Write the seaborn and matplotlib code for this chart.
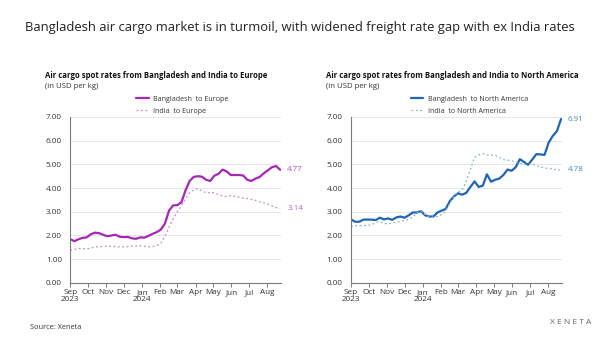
import matplotlib
matplotlib.use("Agg")
import matplotlib.pyplot as plt
import seaborn as sns
import pandas as pd

sns.set_theme(style="white")
plt.rcParams["font.family"] = ["Open Sans", "DejaVu Sans"]

# Weekly spot rates, USD per kg (Sep 2023 - Aug 2024)
weeks = pd.date_range("2023-09-01", periods=52, freq="7D")

bd_europe = [1.85, 1.76, 1.84, 1.90, 1.92, 2.05, 2.12, 2.10, 2.03, 1.97,
             2.00, 2.03, 1.95, 1.93, 1.94, 1.88, 1.86, 1.92, 1.91, 1.98,
             2.07, 2.14, 2.25, 2.50, 3.05, 3.27, 3.28, 3.40, 3.90, 4.30,
             4.47, 4.50, 4.48, 4.35, 4.30, 4.52, 4.60, 4.78, 4.70, 4.55,
             4.55, 4.55, 4.53, 4.35, 4.30, 4.40, 4.47, 4.62, 4.75, 4.88,
             4.93, 4.77]
in_europe = [1.38, 1.42, 1.45, 1.45, 1.43, 1.47, 1.52, 1.52, 1.54, 1.55,
             1.55, 1.53, 1.52, 1.52, 1.53, 1.55, 1.55, 1.57, 1.54, 1.52,
             1.53, 1.58, 1.68, 1.95, 2.35, 2.70, 3.00, 3.25, 3.55, 3.80,
             3.92, 3.98, 3.88, 3.80, 3.82, 3.80, 3.72, 3.66, 3.64, 3.68,
             3.65, 3.62, 3.58, 3.56, 3.52, 3.48, 3.42, 3.38, 3.32, 3.25,
             3.18, 3.14]
bd_namerica = [2.68, 2.58, 2.58, 2.67, 2.67, 2.67, 2.65, 2.75, 2.68, 2.72,
               2.66, 2.76, 2.80, 2.75, 2.85, 2.97, 2.97, 3.03, 2.85, 2.80,
               2.80, 2.97, 3.05, 3.12, 3.45, 3.65, 3.78, 3.72, 3.80, 4.05,
               4.28, 4.05, 4.10, 4.58, 4.27, 4.35, 4.40, 4.55, 4.78, 4.73,
               4.88, 5.22, 5.10, 4.98, 5.20, 5.43, 5.42, 5.40, 5.92, 6.20,
               6.40, 6.91]
in_namerica = [2.38, 2.42, 2.42, 2.42, 2.43, 2.45, 2.55, 2.58, 2.50, 2.50,
               2.52, 2.56, 2.60, 2.62, 2.68, 2.78, 2.95, 3.05, 2.88, 2.78,
               2.78, 2.80, 2.88, 3.05, 3.35, 3.65, 3.85, 3.90, 4.30, 4.80,
               5.30, 5.40, 5.45, 5.40, 5.40, 5.38, 5.30, 5.20, 5.18, 5.15,
               5.10, 5.05, 5.00, 5.00, 5.02, 4.95, 4.88, 4.85, 4.82, 4.82,
               4.75, 4.78]

month_labels = ["Sep\n2023", "Oct", "Nov", "Dec", "Jan\n2024", "Feb", "Mar",
                "Apr", "May", "Jun", "Jul", "Aug"]
y_ticks = [0, 1, 2, 3, 4, 5, 6, 7]

panels = [
    dict(title="Air cargo spot rates from Bangladesh and India to Europe",
         main="Bangladesh  to Europe", other="India  to Europe",
         main_vals=bd_europe, other_vals=in_europe,
         main_color="#A626B8", other_color="#C98BD2",
         main_lbl="#B24DC2", other_lbl="#B866C6",
         left=0.117, legend_x=0.53),
    dict(title="Air cargo spot rates from Bangladesh and India to North America",
         main="Bangladesh  to North America", other="India  to North America",
         main_color="#1F64B8", other_color="#8CB4CE",
         main_vals=bd_namerica, other_vals=in_namerica,
         main_lbl="#3E8CC0", other_lbl="#3E8CC0",
         left=0.585, legend_x=0.56),
]

fig = plt.figure(figsize=(6.0, 3.38), dpi=100)
fig.patch.set_facecolor("white")

fig.text(0.5, 0.918, "Bangladesh air cargo market is in turmoil, with widened freight rate gap with ex India rates",
         ha="center", va="center", fontsize=9.4, color="#222222")

month_starts = pd.date_range("2023-09-01", periods=12, freq="MS")

for p in panels:
    ax = fig.add_axes([p["left"], 0.163, 0.352, 0.491])
    df = pd.DataFrame({"week": weeks, p["main"]: p["main_vals"], p["other"]: p["other_vals"]})
    sns.lineplot(data=df, x="week", y=p["main"], ax=ax, color=p["main_color"],
                 linewidth=1.6, label=p["main"])
    sns.lineplot(data=df, x="week", y=p["other"], ax=ax, color=p["other_color"],
                 linewidth=0.9, linestyle=(0, (1.5, 2.0)), label=p["other"])

    ax.set_ylim(0, 7)
    ax.set_yticks(y_ticks)
    ax.set_yticklabels([f"{v:.2f}" for v in y_ticks])
    ax.set_xlim(weeks[0], weeks[-1] + pd.Timedelta(days=2))
    ax.set_xticks(month_starts)
    ax.set_xticklabels(month_labels)
    ax.set_xlabel("")
    ax.set_ylabel("")
    ax.grid(axis="y", color="#E6E6E6", linewidth=0.7)
    ax.set_axisbelow(True)
    for s in ["top", "right"]:
        ax.spines[s].set_visible(False)
    for s in ["left", "bottom"]:
        ax.spines[s].set_color("#7A7A7A")
        ax.spines[s].set_linewidth(0.8)
    ax.tick_params(axis="x", which="major", length=3, width=0.7, color="#7A7A7A",
                   labelsize=5.9, labelcolor="#333333", pad=1.5, direction="out", bottom=True)
    ax.tick_params(axis="y", length=0, labelsize=5.9, labelcolor="#333333", pad=6)
    for t in ax.get_xticklabels():
        t.set_linespacing(0.95)

    # end-of-series value labels
    ax.annotate(f"{p['main_vals'][-1]:.2f}", xy=(weeks[-1], p["main_vals"][-1]),
                xytext=(5, 0), textcoords="offset points", va="center", ha="left",
                fontsize=5.8, color=p["main_lbl"], annotation_clip=False)
    ax.annotate(f"{p['other_vals'][-1]:.2f}", xy=(weeks[-1], p["other_vals"][-1]),
                xytext=(5, 0), textcoords="offset points", va="center", ha="left",
                fontsize=5.8, color=p["other_lbl"], annotation_clip=False)

    leg = ax.legend(loc="lower center", bbox_to_anchor=(p["legend_x"], 1.005),
                    frameon=False, fontsize=5.1, handlelength=1.8, handletextpad=0.6,
                    labelspacing=0.7, borderaxespad=0.0, borderpad=0.2)
    for t in leg.get_texts():
        t.set_color("#333333")

    pos = ax.get_position()
    fig.text(pos.x0 - 0.042, 0.778, p["title"], ha="left", va="center",
             fontsize=5.55, fontweight="bold", color="#111111")
    fig.text(pos.x0 - 0.042, 0.745, "(in USD per kg)", ha="left", va="center",
             fontsize=5.6, color="#333333")

fig.text(0.05, 0.03, "Source: Xeneta", ha="left", va="center", fontsize=5.3, color="#333333")
fig.text(0.985, 0.045, "X E N E T A", ha="right", va="center", fontsize=6.0, color="#666666")

fig.savefig("out.png", dpi=100, facecolor="white")
